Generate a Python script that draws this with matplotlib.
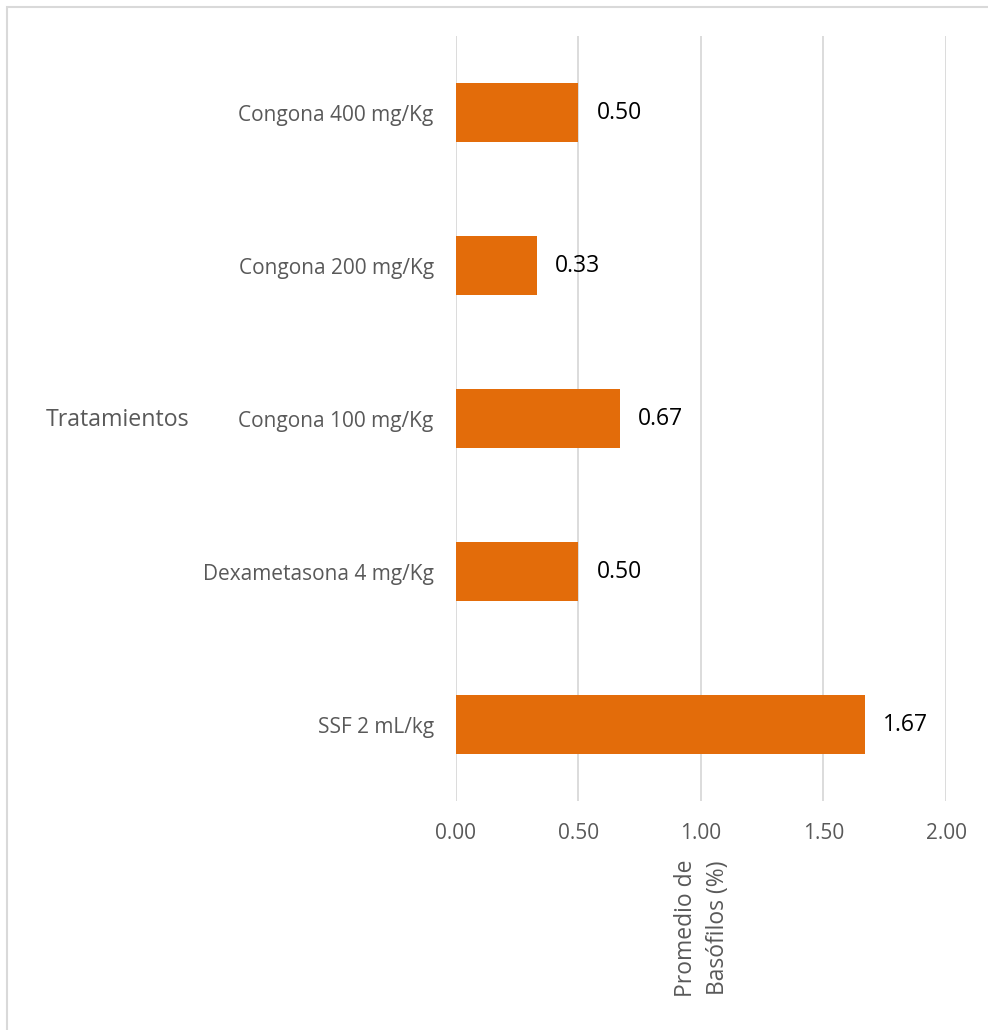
import matplotlib.pyplot as plt
from matplotlib.patches import Rectangle

tratamientos = ['SSF 2 mL/kg', 'Dexametasona 4 mg/Kg', 'Congona 100 mg/Kg',
                'Congona 200 mg/Kg', 'Congona 400 mg/Kg']
basofilos = [1.67, 0.50, 0.67, 0.33, 0.50]
ticks = [0.0, 0.5, 1.0, 1.5, 2.0]

plt.rcParams['font.family'] = ['Open Sans', 'DejaVu Sans']

fig = plt.figure(figsize=(9.88, 10.30), dpi=100)
ax = fig.add_axes([0.4615, 0.2223, 0.496, 0.7427])

# marco gris del gráfico
fig.patches.append(Rectangle((7 / 988, -0.05), 1.2, (1030 - 7) / 1030 + 0.05,
                             transform=fig.transFigure, fill=False,
                             edgecolor='#d9d9d9', linewidth=1.5))

ax.barh(range(len(tratamientos)), basofilos, height=0.39, color='#e36c0a', zorder=3)
for i, v in enumerate(basofilos):
    ax.annotate(f'{v:.2f}', (v, i), xytext=(13, 0), textcoords='offset points',
                va='center', ha='left', fontsize=16.5, color='black')

ax.set_xlim(0, 2.0)
ax.set_ylim(-0.5, len(tratamientos) - 0.5)
ax.set_xticks(ticks)
ax.set_xticklabels([f'{t:.2f}' for t in ticks])
ax.set_yticks(range(len(tratamientos)))
ax.set_yticklabels(tratamientos)
ax.tick_params(axis='both', length=0, colors='#595959')
ax.tick_params(axis='x', pad=16, labelsize=15)
ax.tick_params(axis='y', pad=16, labelsize=15)
ax.grid(axis='x', color='#d9d9d9', linewidth=1.3, zorder=0)
for s in ax.spines.values():
    s.set_visible(False)

ax.set_xlabel('Promedio de\nBasófilos (%)', rotation=90, fontsize=16.5,
              color='#595959', va='top', linespacing=1.4)
ax.xaxis.set_label_coords(0.502, -0.076)
fig.text(46 / 988, 1 - 420 / 1030, 'Tratamientos', fontsize=16.7,
         color='#595959', va='center', ha='left')

fig.savefig('out.png', dpi=100)
